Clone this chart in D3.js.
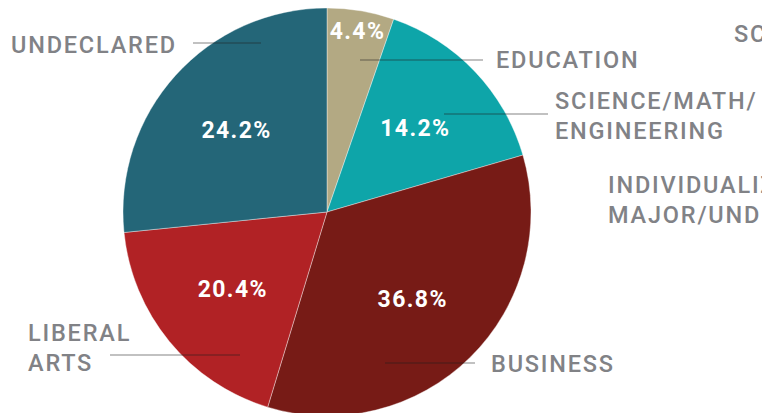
<!DOCTYPE html>
<html>
<head>
<meta charset="utf-8">
<script src="https://cdn.jsdelivr.net/npm/d3@7"></script>
<style>
  html, body { margin: 0; padding: 0; background: #fff; overflow: hidden; }
  svg { display: block; }
  .cat-label { font-family: Roboto, "Noto Sans", sans-serif; font-size: 23.5px; font-weight: 500; letter-spacing: 1.8px; fill: #818286; }
  .pct-label { font-family: Roboto, "Noto Sans", sans-serif; font-size: 23px; font-weight: 700; letter-spacing: 1.4px; fill: #fff; }
</style>
</head>
<body>
<div id="chart"></div>
<script>
// Slices, clockwise from 12 o'clock.  Shares are read off the drawn angles,
// the printed percentages are the ones written on the chart.
var categories = ["Education", "Science/Math/Engineering", "Business", "Liberal Arts", "Undeclared"];
var shares     = [5.3, 15.2, 34.2, 18.7, 26.6];
var pct_text   = ["4.4%", "14.2%", "36.8%", "20.4%", "24.2%"];
var colors     = ["#b3a983", "#0ea5a9", "#771b16", "#b12225", "#246678"];

// Callout labels (text lines) for each slice, plus the ones cut off at the right edge.
var label_lines = [
  ["EDUCATION"],
  ["SCIENCE/MATH/", "ENGINEERING"],
  ["BUSINESS"],
  ["LIBERAL", "ARTS"],
  ["UNDECLARED"]
];
var extra_labels = [["SCHOOL OF"], ["INDIVIDUALIZED", "MAJOR/UNDECIDED"]];

var W = 762, H = 413;
var cx = 327, cy = 212, R = 204;

// where each callout sits: text start, first baseline, leader line row and ends
var callouts = [
  { tx: 496, ty: 68,  ly: 60,  x1: 360, x2: 483 },
  { tx: 555, ty: 109, ly: 114, x1: 444, x2: 548 },
  { tx: 491, ty: 372, ly: 363, x1: 385, x2: 475 },
  { tx: 28,  ty: 341, ly: 355, x1: 110, x2: 240 },
  { tx: 11,  ty: 53,  ly: 43,  x1: 193, x2: 261 }
];
var extra_pos = [{ tx: 734, ty: 42 }, { tx: 608, ty: 193 }];
var LINE_H = 30;

var svg = d3.select("#chart").append("svg")
  .attr("width", W)
  .attr("height", H);

var pie = d3.pie().sort(null).value(function (d) { return d; });
var arcs = pie(shares);

var arc = d3.arc().innerRadius(0).outerRadius(R);
var label_arc = d3.arc().innerRadius(122).outerRadius(122);
var rim_arc = d3.arc().innerRadius(184).outerRadius(184);

var g = svg.append("g").attr("transform", "translate(" + cx + "," + cy + ")");

g.selectAll("path.slice")
  .data(arcs)
  .enter()
  .append("path")
  .attr("class", "slice")
  .attr("d", arc)
  .attr("fill", function (d, i) { return colors[i]; })
  .attr("stroke", "#ffffff")
  .attr("stroke-opacity", 0.55)
  .attr("stroke-width", 0.7);

// leader lines
svg.selectAll("line.leader")
  .data(callouts)
  .enter()
  .append("line")
  .attr("class", "leader")
  .attr("x1", function (d) { return d.x1; })
  .attr("x2", function (d) { return d.x2; })
  .attr("y1", function (d) { return d.ly; })
  .attr("y2", function (d) { return d.ly; })
  .attr("stroke", "#1e1e1e")
  .attr("stroke-opacity", 0.55)
  .attr("stroke-width", 1.2);

// percentage labels, small slices get theirs near the rim
function pct_arc(d) {
  return (d.value / 100 < 0.08) ? rim_arc : label_arc;
}

g.selectAll("text.pct-label")
  .data(arcs)
  .enter()
  .append("text")
  .attr("class", "pct-label")
  .attr("text-anchor", "middle")
  .attr("x", function (d) { return pct_arc(d).centroid(d)[0]; })
  .attr("y", function (d) { return pct_arc(d).centroid(d)[1] + 8; })
  .text(function (d, i) { return pct_text[i]; });

function add_label(lines, pos) {
  var t = svg.append("text")
    .attr("class", "cat-label")
    .attr("x", pos.tx)
    .attr("y", pos.ty);
  lines.forEach(function (line, k) {
    t.append("tspan")
      .attr("x", pos.tx)
      .attr("dy", k === 0 ? 0 : LINE_H)
      .text(line);
  });
}

label_lines.forEach(function (lines, i) { add_label(lines, callouts[i]); });
extra_labels.forEach(function (lines, i) { add_label(lines, extra_pos[i]); });
</script>
</body>
</html>
